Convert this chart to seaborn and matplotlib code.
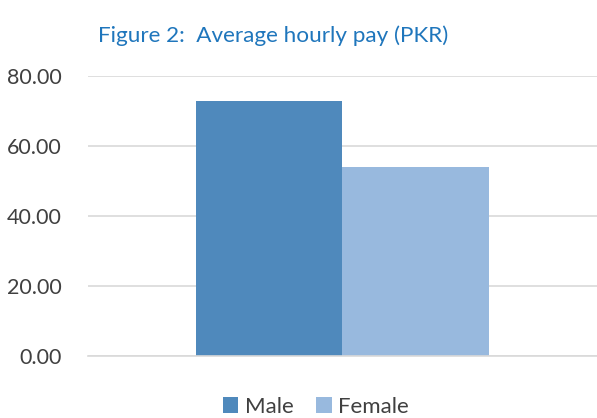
import matplotlib.pyplot as plt
import pandas as pd
import seaborn as sns

# values
categories = [""]
genders = ["Male", "Female"]
hourly_pay = [72.9, 54.0]
colors = ["#4F89BC", "#98B9DE"]

df = pd.DataFrame({
    "category": categories * len(genders),
    "gender": genders,
    "pay": hourly_pay,
})

sns.set_style("white")
plt.rcParams["font.family"] = ["Lato", "DejaVu Sans"]

fig = plt.figure(figsize=(5.97, 4.18), dpi=100)
ax = fig.add_axes([0.147, 0.148, 0.853, 0.67])

sns.barplot(data=df, x="category", y="pay", hue="gender", palette=colors,
            width=0.575, gap=0, saturation=1, linewidth=0, ax=ax)

ax.set_ylim(0, 80)
ax.set_yticks([0, 20, 40, 60, 80])
ax.set_yticklabels([f"{v:.2f}" for v in [0, 20, 40, 60, 80]])
ax.yaxis.grid(True, color="#D9D9D9", linewidth=1.2)
ax.set_axisbelow(True)
ax.tick_params(axis="y", labelsize=15.5, colors="#404040", length=0, pad=19)
ax.tick_params(axis="x", length=0, labelbottom=False)
ax.set_xlabel("")
ax.set_ylabel("")
for side in ["top", "right", "left"]:
    ax.spines[side].set_visible(False)
ax.spines["bottom"].set_color("#D9D9D9")
ax.spines["bottom"].set_linewidth(1.2)

ax.legend(loc="center", bbox_to_anchor=(0.448, -0.18), ncol=2, frameon=False,
          fontsize=16, handlelength=0.7, handleheight=0.7,
          handletextpad=0.3, columnspacing=1.0, labelcolor="#404040")

fig.suptitle("Figure 2:  Average hourly pay (PKR)", x=0.457, y=0.94,
             fontsize=16.2, color="#1F76BC")

fig.savefig("out.png", dpi=100)
